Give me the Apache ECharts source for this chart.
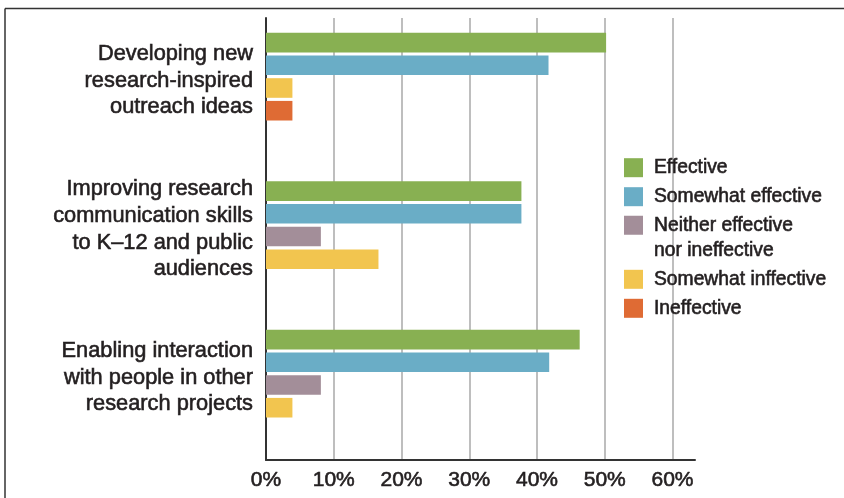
<!DOCTYPE html>
<html>
<head>
<meta charset="utf-8">
<script src="https://cdn.jsdelivr.net/npm/echarts@6/dist/echarts.min.js"></script>
<style>
html,body{margin:0;padding:0;background:#fff;}
#main{width:844px;height:498px;}
</style>
</head>
<body>
<div id="main"></div>
<script>
// ---- data ----
const categories = [
  'Developing new\nresearch-inspired\noutreach ideas',
  'Improving research\ncommunication skills\nto K–12 and public\naudiences',
  'Enabling interaction\nwith people in other\nresearch projects'
];
const seriesNames = [
  'Effective',
  'Somewhat effective',
  'Neither effective\nnor ineffective',
  'Somewhat inffective',
  'Ineffective'
];
const effective = [50.2, 37.7, 46.3];
const somewhatEffective = [41.7, 37.7, 41.8];
const neitherEffective = [0, 8.1, 8.1];
const somewhatIneffective = [3.9, 16.6, 3.9];
const ineffective = [3.9, 0, 0];
const xTicks = [0, 10, 20, 30, 40, 50, 60];

// ---- styling ----
const seriesValues = [effective, somewhatEffective, neitherEffective, somewhatIneffective, ineffective];
const colors = ['#88b052', '#6aadc6', '#a38e99', '#f2c54f', '#df6b34'];
const textColor = '#231f20';
const FONT = '"Liberation Sans", Arial, sans-serif';
const heavy = {textBorderColor: textColor, textBorderWidth: 0.6};

const chart = echarts.init(document.getElementById('main'), null, {renderer: 'canvas'});

function renderItem(params, api) {
  const s = params.seriesIndex;
  const cat = api.value(1);
  const present = seriesValues.map(a => a[cat] > 0);
  if (!present[s]) return null;
  let k = 0;
  for (let j = 0; j < s; j++) if (present[j]) k++;
  const n = present.filter(Boolean).length;
  const band = api.size([0, 1])[1];
  const pitch = band * 0.1529;
  const h = band * 0.132;
  const p0 = api.coord([0, cat]);
  const p1 = api.coord([api.value(0), cat]);
  const top = p0[1] - (n * pitch - (pitch - h)) / 2;
  return {
    type: 'rect',
    shape: {x: p0[0], y: top + k * pitch, width: p1[0] - p0[0], height: h},
    style: api.style()
  };
}

const legendBase = {
  orient: 'vertical',
  left: 624,
  padding: 0,
  itemWidth: 19,
  itemHeight: 19,
  itemGap: 9,
  icon: 'rect',
  selectedMode: false,
  textStyle: Object.assign({fontFamily: FONT, fontSize: 19.3, color: textColor, lineHeight: 20, padding: [0, 0, 0, 6]}, heavy)
};

const option = {
  backgroundColor: '#fff',
  animation: false,
  graphic: [
    {type: 'line', shape: {x1: 5, y1: 8.5, x2: 844, y2: 8.5}, style: {stroke: '#333', lineWidth: 1.5}},
    {type: 'line', shape: {x1: 5, y1: 8.5, x2: 5, y2: 498}, style: {stroke: '#333', lineWidth: 1.5}}
  ],
  grid: [
    {left: 266, width: 406.5, top: 18, height: 442},
    {left: 266, width: 406.5, top: 2.4, height: 445.5},
    {left: 266, width: 429, top: 18, height: 442},
    {left: 266, width: 406.5, top: 6.4, height: 445.5}
  ],
  xAxis: [
    {
      gridIndex: 0, type: 'value', min: xTicks[0], max: xTicks[xTicks.length - 1], interval: 10,
      axisLine: {show: false}, axisTick: {show: false},
      splitLine: {show: true, lineStyle: {color: '#a8a8a8', width: 1.5}},
      axisLabel: Object.assign({formatter: '{value}%', fontFamily: FONT, fontSize: 21, color: textColor, margin: 10}, heavy)
    },
    {
      gridIndex: 1, type: 'value', min: xTicks[0], max: xTicks[xTicks.length - 1],
      show: false
    },
    {
      gridIndex: 2, type: 'value', min: 0, max: 1,
      axisLine: {show: true, lineStyle: {color: '#333', width: 2}},
      axisTick: {show: false}, axisLabel: {show: false}, splitLine: {show: false}
    },
    {
      gridIndex: 3, type: 'value', min: xTicks[0], max: xTicks[xTicks.length - 1],
      show: false
    }
  ],
  yAxis: [
    {
      gridIndex: 0, type: 'value', min: 0, max: 1,
      axisLine: {show: true, lineStyle: {color: '#333', width: 2}},
      axisTick: {show: false}, axisLabel: {show: false}, splitLine: {show: false}
    },
    {
      gridIndex: 1, type: 'category', data: categories, inverse: true, show: false
    },
    {
      gridIndex: 2, type: 'value', min: 0, max: 1, show: false
    },
    {
      gridIndex: 3, type: 'category', data: categories, inverse: true,
      axisLine: {show: false}, axisTick: {show: false}, splitLine: {show: false},
      axisLabel: Object.assign({fontFamily: FONT, fontSize: 21.8, lineHeight: 26.7, color: textColor, margin: 13, align: 'right'}, heavy)
    }
  ],
  legend: [
    Object.assign({}, legendBase, {top: 157.7, data: [seriesNames[0], seriesNames[1]]}),
    Object.assign({}, legendBase, {
      top: 212.8, itemHeight: 44,
      data: [{name: seriesNames[2], icon: 'path://M0,0L19,0L19,19L0,19Z M0,44L0.01,44Z'}],
      textStyle: Object.assign({fontFamily: FONT, fontSize: 19.3, color: textColor, lineHeight: 25, padding: [0, 0, 0, 6]}, heavy)
    }),
    Object.assign({}, legendBase, {top: 269.3, data: [seriesNames[3], seriesNames[4]]})
  ],
  series: seriesValues.map((vals, s) => ({
    type: 'custom',
    name: seriesNames[s],
    xAxisIndex: 1,
    yAxisIndex: 1,
    itemStyle: {color: colors[s]},
    encode: {x: 0, y: 1},
    data: vals.map((v, i) => [v, i]),
    renderItem: renderItem
  }))
};

chart.setOption(option);
</script>
</body>
</html>
